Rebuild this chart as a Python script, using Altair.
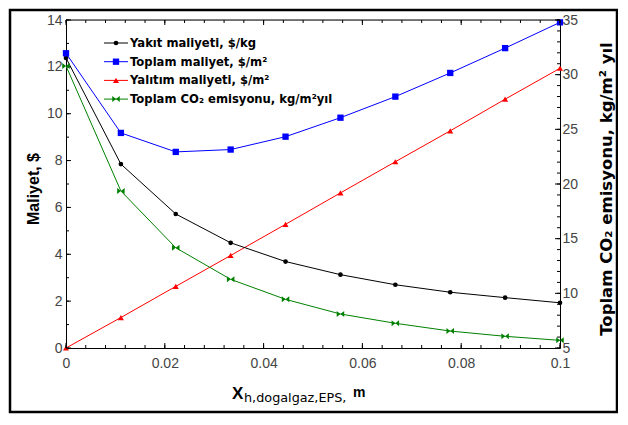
import altair as alt
import pandas as pd

# ---------------- data ----------------
x_vals = [0.0, 0.01111, 0.02222, 0.03333, 0.04444, 0.05556, 0.06667, 0.07778, 0.08889, 0.1]
yakit = [12.38, 7.85, 5.72, 4.49, 3.69, 3.13, 2.70, 2.38, 2.15, 1.93]
toplam = [12.58, 9.18, 8.37, 8.47, 9.02, 9.83, 10.73, 11.74, 12.80, 13.90]
yalitim = [0.0, 1.30, 2.63, 3.95, 5.28, 6.62, 7.95, 9.27, 10.62, 11.94]
co2 = [30.8, 19.36, 14.17, 11.28, 9.45, 8.11, 7.26, 6.55, 6.07, 5.70]

legend_labels = [
    "Yakıt maliyeti, $/kg",
    "Toplam maliyet, $/m²",
    "Yalıtım maliyeti, $/m²",
    "Toplam CO₂ emisyonu, kg/m²yıl",
]
colors = ["#000000", "#0000FF", "#FF0000", "#008000"]

x_ticks_major = [0, 0.02, 0.04, 0.06, 0.08, 0.1]
x_ticks_minor = [i * 0.004 for i in range(26)]
yl_ticks_major = [0, 2, 4, 6, 8, 10, 12, 14]
yl_ticks_minor = list(range(0, 15))
yr_ticks_major = [5, 10, 15, 20, 25, 30, 35]
yr_ticks_minor = list(range(5, 36))

W, H = 494, 328
FONT = "Liberation Sans"
WFONT = "DejaVu Sans"
BOWTIE = "M-1,-0.8L0,0L-1,0.8ZM1,-0.8L0,0L1,0.8ZM0,-1L0,1"

df = pd.DataFrame({"x": x_vals, "yakit": yakit, "toplam": toplam,
                   "yalitim": yalitim, "co2": co2})

xs = alt.Scale(domain=[0, 0.1], nice=False, zero=False)
yls = alt.Scale(domain=[0, 14], nice=False, zero=False)
yrs = alt.Scale(domain=[5, 35], nice=False, zero=False)

common = dict(ticks=False, domain=True, domainColor="black", domainWidth=1,
              labelFont=FONT, labelFontSize=14, labelColor="#444444",
              grid=False, title=None)
AX = alt.Axis(values=x_ticks_major, format="~g", labelPadding=8,
              labelFlush=False, **common)
AYL = alt.Axis(values=yl_ticks_major, labelPadding=4, **common)
AYR = alt.Axis(orient="right", values=yr_ticks_major, labelPadding=2, **common)

def X(field="x"):
    return alt.X(f"{field}:Q", scale=xs, axis=AX)

def YL(field):
    return alt.Y(f"{field}:Q", scale=yls, axis=AYL)

def YR(field):
    return alt.Y(f"{field}:Q", scale=yrs, axis=AYR)

base = alt.Chart(df)

def series(field, color, shape, size, yfun):
    line = base.mark_line(color=color, strokeWidth=1).encode(x=X(), y=yfun(field))
    pts = base.mark_point(color=color, fill=color, filled=True, shape=shape,
                          size=size, opacity=1, strokeWidth=1).encode(
        x=X(), y=yfun(field))
    return [line, pts]

def ticks_x(vals, length, top=False):
    d = pd.DataFrame({"t": vals})
    r = alt.Chart(d).mark_rule(color="black", strokeWidth=1)
    if top:
        return r.encode(x=X("t"), y=alt.value(0), y2=alt.value(length))
    return r.encode(x=X("t"), y=alt.value(H), y2=alt.value(H - length))

def ticks_y(vals, length, yfun, right=False):
    d = pd.DataFrame({"t": vals})
    r = alt.Chart(d).mark_rule(color="black", strokeWidth=1)
    if right:
        return r.encode(y=yfun("t"), x=alt.value(W), x2=alt.value(W - length))
    return r.encode(y=yfun("t"), x=alt.value(0), x2=alt.value(length))

dummy = pd.DataFrame({"a": [0]})

top_line = alt.Chart(dummy).mark_rule(color="black", strokeWidth=1).encode(
    x=alt.value(0), x2=alt.value(W), y=alt.value(0))

frame = alt.Chart(dummy).mark_rect(fill=None, stroke="black", strokeWidth=2.5).encode(
    x=alt.value(-56), x2=alt.value(W + 57), y=alt.value(-10), y2=alt.value(H + 64))

# legend
legend_layers = []
shapes = ["circle", "square", "triangle-up", BOWTIE]
sizes = [22, 40, 36, 56]
for i, (lab, col, shp, sz) in enumerate(zip(legend_labels, colors, shapes, sizes)):
    yy = 23 + 18.7 * i
    legend_layers.append(alt.Chart(dummy).mark_rule(color=col, strokeWidth=1).encode(
        x=alt.value(38), x2=alt.value(62), y=alt.value(yy)))
    legend_layers.append(alt.Chart(dummy).mark_point(
        color=col, fill=col, filled=True, shape=shp, size=sz, opacity=1).encode(
        x=alt.value(50), y=alt.value(yy)))
    legend_layers.append(alt.Chart(pd.DataFrame({"t": [lab]})).mark_text(
        align="left", baseline="middle", font=WFONT, fontSize=11.6, fontWeight="bold",
        color="black").encode(x=alt.value(64), y=alt.value(yy + 1), text="t:N"))

def txt(s, x, y, size, bold=True, angle=0, align="left", baseline="alphabetic",
        font=FONT):
    kw = dict(align=align, baseline=baseline, font=font, fontSize=size,
              fontWeight="bold" if bold else "normal", color="black")
    if angle:
        kw["angle"] = angle
    return alt.Chart(pd.DataFrame({"t": [s]})).mark_text(**kw).encode(
        x=alt.value(x), y=alt.value(y), text="t:N")

titles = [
    txt("Maliyet, $", -32, 169, 16, angle=270, align="center", baseline="middle"),
    txt("Toplam CO₂ emisyonu, kg/m² yıl", 541, 169, 16.5, angle=270,
        align="center", baseline="middle", font=WFONT),
    txt("X", 166, 379, 17),
    txt("h,dogalgaz,EPS,", 178, 382, 12.8, bold=False, font=WFONT),
    txt("m", 287, 377, 14),
]

left_group = alt.layer(
    *series("yalitim", colors[2], "triangle-up", 36, YL),
    *series("yakit", colors[0], "circle", 22, YL),
    *series("toplam", colors[1], "square", 40, YL),
    ticks_y(yl_ticks_minor, 3, YL), ticks_y(yl_ticks_major, 5, YL),
    ticks_x(x_ticks_minor, 3), ticks_x(x_ticks_major, 5),
    ticks_x(x_ticks_minor, 3, top=True), ticks_x(x_ticks_major, 5, top=True),
    top_line,
    *legend_layers,
    *titles,
    frame,
)

right_group = alt.layer(
    *series("co2", colors[3], BOWTIE, 56, YR),
    ticks_y(yr_ticks_minor, 3, YR, right=True),
    ticks_y(yr_ticks_major, 5, YR, right=True),
)

chart = alt.layer(left_group, right_group).resolve_scale(y="independent").properties(
    width=W, height=H,
    padding={"left": 58, "top": 12, "right": 58, "bottom": 66},
    autosize=alt.AutoSizeParams(type="none"),
).configure_view(stroke=None).configure(background="white")

chart.save("out.html", embed_options={"renderer": "svg", "actions": False})
